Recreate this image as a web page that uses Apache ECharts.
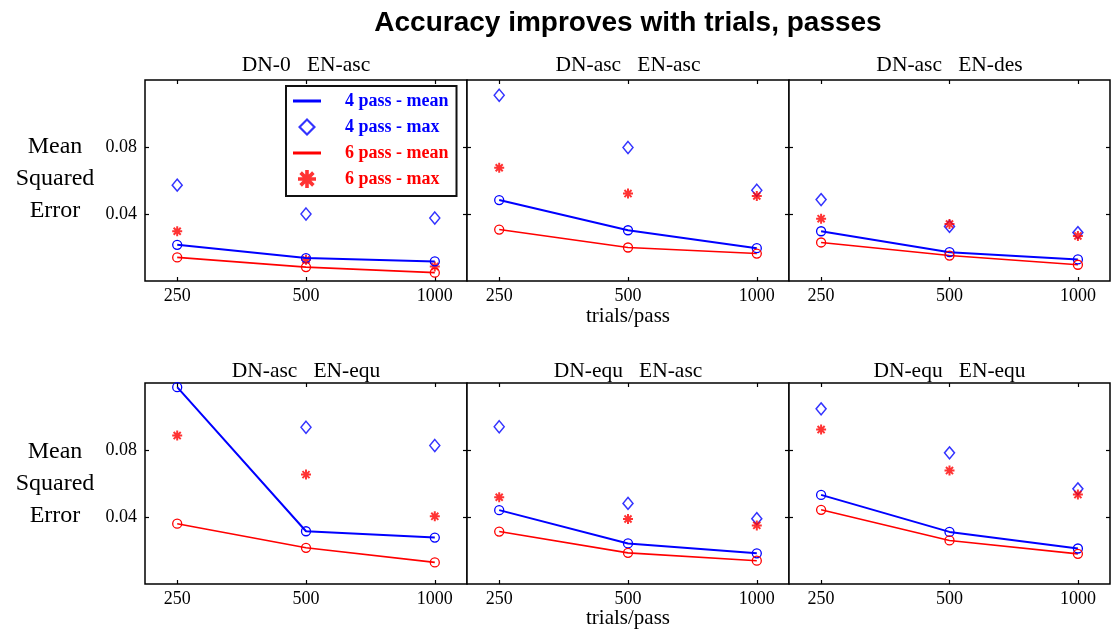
<!DOCTYPE html>
<html>
<head>
<meta charset="utf-8">
<script src="https://cdn.jsdelivr.net/npm/echarts@6/dist/echarts.min.js"></script>
<style>
  html, body { margin: 0; padding: 0; background: #fff; }
  #main { width: 1111px; height: 635px; }
</style>
</head>
<body>
<div id="main"></div>
<script>
// trials/pass on the x axis, one row per panel in each series array
var trials = [250, 500, 1000];
var panelTitles = ['DN-0   EN-asc', 'DN-asc   EN-asc', 'DN-asc   EN-des',
                   'DN-asc   EN-equ', 'DN-equ   EN-asc', 'DN-equ   EN-equ'];
var yTicks = [0.04, 0.08];

var mean4 = [
  [0.0216, 0.0137, 0.0117],
  [0.0483, 0.0303, 0.0196],
  [0.0297, 0.0172, 0.0129],
  [0.1175, 0.0315, 0.0277],
  [0.0441, 0.0242, 0.0183],
  [0.0532, 0.0311, 0.0212]
];
var max4 = [
  [0.0572, 0.0400, 0.0376],
  [0.1109, 0.0797, 0.0542],
  [0.0486, 0.0326, 0.0289],
  [null,   0.0936, 0.0827],
  [0.0939, 0.0481, 0.0390],
  [0.1046, 0.0783, 0.0568]
];
var mean6 = [
  [0.0141, 0.0083, 0.0050],
  [0.0307, 0.0200, 0.0164],
  [0.0230, 0.0152, 0.0097],
  [0.0360, 0.0216, 0.0129],
  [0.0313, 0.0186, 0.0139],
  [0.0443, 0.0260, 0.0180]
];
var max6 = [
  [0.0297, 0.0127, 0.0087],
  [0.0676, 0.0522, 0.0508],
  [0.0372, 0.0340, 0.0269],
  [0.0886, 0.0653, 0.0404],
  [0.0518, 0.0388, 0.0350],
  [0.0922, 0.0677, 0.0534]
];

var BLUE = '#0000ff';
var RED = '#ff0000';
var SERIF = 'Liberation Serif';
// asterisk marker: + and x arms
var STAR = 'path://M4,0H6V10H4Z M0,4H10V6H0Z M2.17,0.76L9.24,7.83L7.83,9.24L0.76,2.17Z M7.83,0.76L9.24,2.17L2.17,9.24L0.76,7.83Z';
var LINE_ICON = 'path://M0,0H28V3H0Z';
var DIAMOND_ICON = 'path://M10,0L20,10L10,20L0,10Z M10,3.4L3.4,10L10,16.6L16.6,10Z';

var colLeft = [145, 467, 789];
var colWidth = [322, 322, 321];
var rowTop = [80, 383];
var panelH = 201;

function pts(vals) {
  var out = [];
  for (var j = 0; j < vals.length; j++) {
    if (vals[j] != null) out.push([j, vals[j]]);
  }
  return out;
}

var grids = [], xAxes = [], yAxes = [], series = [];
var titles = [{
  text: 'Accuracy improves with trials, passes',
  left: 628, top: 23, padding: 0,
  textAlign: 'center', textVerticalAlign: 'middle',
  textStyle: { fontFamily: 'Liberation Sans', fontWeight: 'bold', fontSize: 28, color: '#000' }
}];

for (var i = 0; i < 6; i++) {
  var r = Math.floor(i / 3), c = i % 3;
  grids.push({
    left: colLeft[c], top: rowTop[r], width: colWidth[c], height: panelH,
    show: true, backgroundColor: '#fff', borderColor: '#000', borderWidth: 1.5
  });
  var tick = { inside: true, length: 4, lineStyle: { color: '#000', width: 1.2 } };
  var noLine = { show: false, onZero: false };
  xAxes.push({
    gridIndex: i, type: 'value', min: -0.25, max: 2.25, position: 'bottom',
    axisLine: noLine, splitLine: { show: false },
    axisTick: Object.assign({ customValues: [0, 1, 2] }, tick),
    axisLabel: {
      customValues: [0, 1, 2], margin: 6,
      formatter: function (v) { return String(trials[Math.round(v)]); },
      fontFamily: SERIF, fontSize: 18, color: '#000'
    }
  });
  xAxes.push({
    gridIndex: i, type: 'value', min: -0.25, max: 2.25, position: 'top',
    axisLine: noLine, splitLine: { show: false },
    axisTick: Object.assign({ customValues: [0, 1, 2] }, tick),
    axisLabel: { show: false }
  });
  yAxes.push({
    gridIndex: i, type: 'value', min: 0, max: 0.12, position: 'left',
    axisLine: noLine, splitLine: { show: false },
    axisTick: Object.assign({ customValues: yTicks }, tick),
    axisLabel: {
      show: c === 0, customValues: yTicks, margin: 8,
      formatter: function (v) { return v.toFixed(2); },
      fontFamily: SERIF, fontSize: 18, color: '#000'
    }
  });
  yAxes.push({
    gridIndex: i, type: 'value', min: 0, max: 0.12, position: 'right',
    axisLine: noLine, splitLine: { show: false },
    axisTick: Object.assign({ customValues: yTicks }, tick),
    axisLabel: { show: false }
  });

  var xi = 2 * i, yi = 2 * i;
  series.push({
    type: 'scatter', name: '4 pass - max', xAxisIndex: xi, yAxisIndex: yi,
    data: pts(max4[i]), symbol: 'diamond', symbolSize: [10, 12],
    itemStyle: { color: 'transparent', borderColor: BLUE, borderWidth: 1.5 }
  });
  series.push({
    type: 'line', name: '4 pass - mean', xAxisIndex: xi, yAxisIndex: yi,
    data: pts(mean4[i]), symbol: 'circle', symbolSize: 9, showAllSymbol: true,
    lineStyle: { color: BLUE, width: 2 },
    itemStyle: { color: 'transparent', borderColor: BLUE, borderWidth: 1.3 }
  });
  series.push({
    type: 'line', name: '6 pass - mean', xAxisIndex: xi, yAxisIndex: yi,
    data: pts(mean6[i]), symbol: 'circle', symbolSize: 9, showAllSymbol: true,
    lineStyle: { color: RED, width: 1.6 },
    itemStyle: { color: 'transparent', borderColor: RED, borderWidth: 1.3 }
  });
  series.push({
    type: 'scatter', name: '6 pass - max', xAxisIndex: xi, yAxisIndex: yi,
    data: pts(max6[i]), symbol: STAR, symbolSize: 10,
    itemStyle: { color: RED }
  });

  titles.push({
    text: panelTitles[i],
    left: colLeft[c] + colWidth[c] / 2, top: r === 0 ? 65 : 371, padding: 0,
    textAlign: 'center', textVerticalAlign: 'middle',
    textStyle: { fontFamily: SERIF, fontWeight: 'normal', fontSize: 21.5, color: '#000' }
  });
}

// row labels
[178.5, 484].forEach(function (y) {
  titles.push({
    text: 'Mean\nSquared\nError', left: 55, top: y, padding: 0,
    textAlign: 'center', textVerticalAlign: 'middle',
    textStyle: { fontFamily: SERIF, fontWeight: 'normal', fontSize: 24, lineHeight: 32, color: '#000' }
  });
});
[316, 618].forEach(function (y) {
  titles.push({
    text: 'trials/pass', left: 628, top: y, padding: 0,
    textAlign: 'center', textVerticalAlign: 'middle',
    textStyle: { fontFamily: SERIF, fontWeight: 'normal', fontSize: 21, color: '#000' }
  });
});

var legendFont = { fontFamily: SERIF, fontWeight: 'bold', fontSize: 18, lineHeight: 18, padding: [0, 0, 0, 19] };
var option = {
  animation: false,
  backgroundColor: '#fff',
  title: titles,
  grid: grids,
  xAxis: xAxes,
  yAxis: yAxes,
  legend: {
    orient: 'vertical', left: 286, top: 86,
    padding: [6, 8, 8, 7], itemGap: 8, itemWidth: 28, itemHeight: 18,
    backgroundColor: '#fff', borderColor: '#111', borderWidth: 2,
    selectedMode: false, z: 10,
    data: [
      { name: '4 pass - mean', icon: LINE_ICON, itemStyle: { color: BLUE, borderWidth: 0 },
        textStyle: Object.assign({ color: BLUE }, legendFont) },
      { name: '4 pass - max', icon: DIAMOND_ICON, itemStyle: { color: BLUE, borderWidth: 0 },
        textStyle: Object.assign({ color: BLUE }, legendFont) },
      { name: '6 pass - mean', icon: LINE_ICON, itemStyle: { color: RED, borderWidth: 0 },
        textStyle: Object.assign({ color: RED }, legendFont) },
      { name: '6 pass - max', icon: STAR, itemStyle: { color: RED, borderWidth: 0 },
        textStyle: Object.assign({ color: RED }, legendFont) }
    ]
  },
  series: series
};

var myChart = echarts.init(document.getElementById('main'));
myChart.setOption(option);
</script>
</body>
</html>
